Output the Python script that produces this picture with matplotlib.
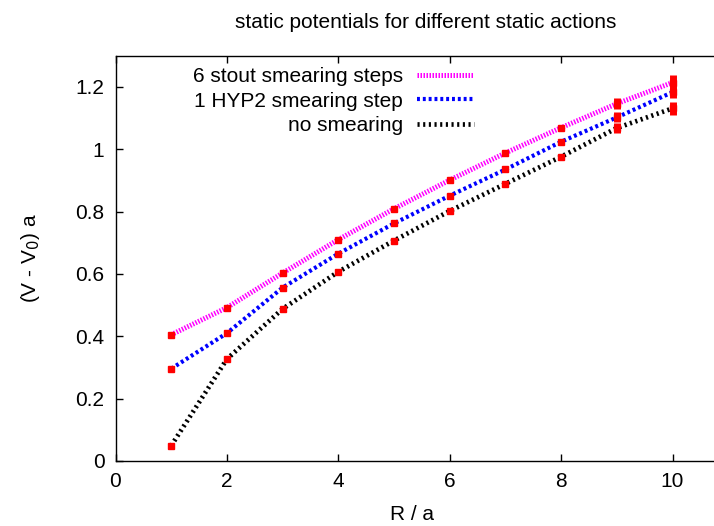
import matplotlib
matplotlib.use("Agg")
import matplotlib.pyplot as plt

plt.rcParams['font.family'] = ['Liberation Sans', 'DejaVu Sans']

R = [1, 2, 3, 4, 5, 6, 7, 8, 9, 10]
stout = [0.405, 0.492, 0.603, 0.710, 0.809, 0.901, 0.988, 1.069, 1.146, 1.214]
stout_err = [0.003, 0.003, 0.003, 0.003, 0.003, 0.004, 0.004, 0.005, 0.017, 0.025]
hyp2 = [0.296, 0.410, 0.556, 0.665, 0.762, 0.851, 0.935, 1.024, 1.102, 1.183]
hyp2_err = [0.003, 0.003, 0.003, 0.003, 0.003, 0.004, 0.004, 0.005, 0.016, 0.018]
nosmear = [0.049, 0.327, 0.488, 0.607, 0.707, 0.802, 0.889, 0.976, 1.068, 1.131]
nosmear_err = [0.003, 0.003, 0.003, 0.003, 0.003, 0.004, 0.004, 0.005, 0.016, 0.020]

labels = ['6 stout smearing steps', '1 HYP2 smearing step', 'no smearing']
xticks = [0, 2, 4, 6, 8, 10]
yticks = [0, 0.2, 0.4, 0.6, 0.8, 1.0, 1.2]
yticklabels = ['0', '0.2', '0.4', '0.6', '0.8', '1', '1.2']

FS = 15
fig = plt.figure(figsize=(7.14, 5.26), dpi=100)
W, H = 714, 526
x0, y0 = 115.5, 461.0
xunit = 55.7
xmax = 10.9
ax = fig.add_axes([x0 / W, (H - y0) / H, xmax * xunit / W, (y0 - 55.7) / H])

styles = [
    dict(color='#ff00ff', lw=3.6, ls=(0, (0.3, 0.3))),
    dict(color='#0000ff', lw=3.0, ls=(0, (0.7, 0.7))),
    dict(color='#000000', lw=3.4, ls=(0, (0.45, 0.75))),
]
series = [(stout, stout_err), (hyp2, hyp2_err), (nosmear, nosmear_err)]

for (vals, errs), st, lab in zip(series, styles, labels):
    ax.plot(R, vals, color=st['color'], lw=st['lw'], linestyle=st['ls'],
            label=lab, dash_capstyle='butt', zorder=2)
for vals, errs in series:
    ax.errorbar(R, vals, yerr=errs, fmt='s', color='#ff0000', ms=5.0,
                elinewidth=5, capsize=0, zorder=3)

ax.set_xlim(0, xmax)
ax.set_ylim(0, 1.3)
ax.set_xticks(xticks)
ax.set_xticklabels([str(t) for t in xticks])
ax.set_yticks(yticks)
ax.set_yticklabels(yticklabels)
ax.tick_params(direction='in', length=5, width=1, labelsize=FS, top=True,
               right=False, pad=8)
ax.spines['right'].set_visible(False)
for s in ['left', 'bottom', 'top']:
    ax.spines[s].set_linewidth(1.0)

fig.text(412 / W, 1 - 514 / H, 'R / a', fontsize=FS, ha='center', va='center')
fig.text(30 / W, 1 - 258 / H, '(V - V$_0$) a', fontsize=FS, ha='center',
         va='center', rotation=90)
fig.text(426 / W, 1 - 22 / H, 'static potentials for different static actions',
         fontsize=FS, ha='center', va='center')

leg = ax.legend(loc='upper right', bbox_to_anchor=(474 / W, 1 - 67 / H),
                bbox_transform=fig.transFigure,
                frameon=False, markerfirst=False, fontsize=FS,
                handlelength=2.74, handletextpad=0.67, labelspacing=0.27,
                borderaxespad=0, borderpad=0)

fig.savefig('out.png', dpi=100)
